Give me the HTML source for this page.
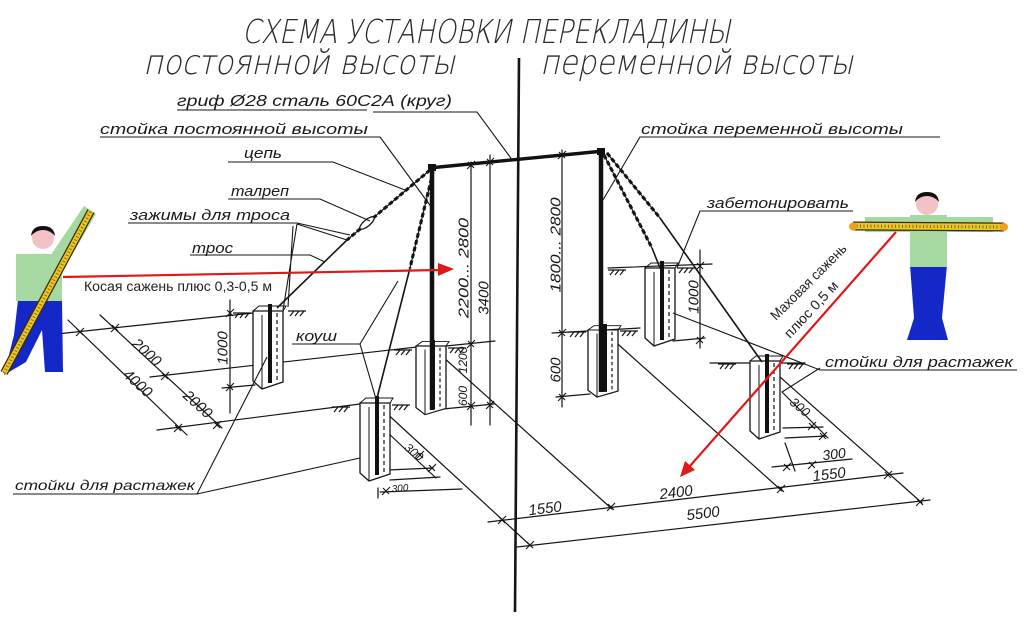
<!DOCTYPE html>
<html><head><meta charset="utf-8"><title>Схема установки перекладины</title>
<style>
html,body{margin:0;padding:0;background:#fff;}
svg{display:block;}
.l{stroke:#151515;stroke-width:1.2;fill:none;stroke-linecap:round}
.t{stroke:#151515;stroke-width:1.1;fill:none}
.c{stroke:#151515;stroke-width:1.6;fill:none}
.ch{stroke:#151515;stroke-width:3.1;fill:none;stroke-dasharray:4.5 2.5}
.h{font-family:"Liberation Sans","DejaVu Sans",sans-serif;font-style:italic;fill:#1a1a1a}
.tt{font-family:"DejaVu Sans ExtraLight","DejaVu Sans Light","Liberation Sans",sans-serif;font-style:italic;font-weight:200;fill:#2a2a2a}
.r{font-family:"Liberation Sans","DejaVu Sans",sans-serif;fill:#222}
</style></head>
<body>
<svg width="1024" height="621" viewBox="0 0 1024 621" xmlns="http://www.w3.org/2000/svg">
<defs>
  <g id="blk">
    <polygon points="0,0 30,0 30,71 9,78 0,70" fill="#fff" stroke="#151515" stroke-width="1.3"/>
    <line x1="9" y1="4" x2="9" y2="78" stroke="#151515" stroke-width="1"/>
    <path d="M0,0 L6,-5 L33,-5 L30,0" fill="none" stroke="#151515" stroke-width="1"/>
    <line x1="17" y1="-7" x2="17" y2="72" stroke="#111" stroke-width="4"/>
    <line x1="24" y1="2" x2="24" y2="70" stroke="#151515" stroke-width="1.2" stroke-dasharray="4 3"/>
  </g>
  <g id="ht">
    <path d="M0,0 h18 M2,5 l4,-5 M7,5 l4,-5 M12,5 l4,-5" fill="none" stroke="#151515" stroke-width="1.2"/>
  </g>
  <g id="tk">
    <path d="M-4,4 L4,-4 M-3,-3 L3,3" fill="none" stroke="#151515" stroke-width="1.1"/>
  </g>
</defs>

<rect width="1024" height="621" fill="#fff"/>

<!-- Titles -->
<text x="242" y="43" class="tt" font-size="33" textLength="488" lengthAdjust="spacingAndGlyphs">СХЕМА УСТАНОВКИ ПЕРЕКЛАДИНЫ</text>
<text x="143" y="74" class="tt" font-size="34" textLength="312" lengthAdjust="spacingAndGlyphs">постоянной высоты</text>
<text x="540" y="74" class="tt" font-size="34" textLength="313" lengthAdjust="spacingAndGlyphs">переменной высоты</text>

<!-- center divider -->
<line x1="519" y1="58" x2="515" y2="612" stroke="#151515" stroke-width="2.6"/>

<!-- ground / perspective lines -->
<line class="l" x1="57" y1="334" x2="253" y2="313"/>
<line class="l" x1="150" y1="377" x2="417" y2="347"/>
<line class="l" x1="446" y1="346" x2="495" y2="341"/>
<line class="l" x1="157" y1="430" x2="360" y2="404"/>
<line class="l" x1="443" y1="409" x2="494" y2="404"/>
<line class="l" x1="100" y1="315" x2="222" y2="428"/>
<line class="l" x1="68" y1="320" x2="187" y2="435"/>
<line class="l" x1="443" y1="357" x2="612" y2="509"/>
<line class="l" x1="383" y1="410" x2="532" y2="547"/>
<line class="l" x1="610" y1="337" x2="782" y2="491"/>
<line class="l" x1="780" y1="377" x2="922" y2="503"/>
<line class="l" x1="488" y1="522" x2="903" y2="473"/>
<line class="l" x1="517" y1="547" x2="930" y2="500"/>

<!-- vertical dims -->
<line class="l" x1="230" y1="300" x2="230" y2="413"/>
<line class="l" x1="222" y1="388" x2="255" y2="385"/>
<line class="l" x1="471" y1="162" x2="471" y2="425"/>
<line class="l" x1="490" y1="155" x2="490" y2="425"/>
<line class="l" x1="562" y1="150" x2="562" y2="407"/>
<line class="l" x1="552" y1="333" x2="640" y2="328"/>
<line class="l" x1="556" y1="397" x2="590" y2="394"/>
<line class="l" x1="608" y1="268" x2="712" y2="264"/>
<line class="l" x1="673" y1="341" x2="705" y2="338"/>
<line class="l" x1="700" y1="250" x2="700" y2="348"/>
<line class="l" x1="710" y1="363" x2="805" y2="363"/>

<!-- small dims near F -->
<line class="l" x1="782" y1="392" x2="828" y2="438"/>
<line class="l" x1="783" y1="428" x2="823" y2="427"/>
<line class="l" x1="785" y1="438" x2="826" y2="436"/>
<line class="l" x1="785" y1="443" x2="795" y2="471"/>
<line class="l" x1="772" y1="467" x2="852" y2="459"/>
<!-- small dims near B -->
<line class="l" x1="387" y1="432" x2="436" y2="478"/>
<line class="l" x1="388" y1="470" x2="433" y2="468"/>
<line class="l" x1="390" y1="480" x2="440" y2="477"/>
<line class="l" x1="378" y1="488" x2="378" y2="498"/>
<line class="l" x1="380" y1="492" x2="462" y2="489"/>

<!-- ticks -->
<use href="#tk" x="115" y="328"/><use href="#tk" x="165" y="376"/><use href="#tk" x="217" y="425"/>
<use href="#tk" x="80" y="332"/><use href="#tk" x="178" y="428"/>
<use href="#tk" x="230" y="313"/><use href="#tk" x="230" y="387"/>
<use href="#tk" x="471" y="165"/><use href="#tk" x="490" y="162"/><use href="#tk" x="471" y="344"/>
<use href="#tk" x="471" y="406"/><use href="#tk" x="490" y="405"/>
<use href="#tk" x="562" y="155"/><use href="#tk" x="562" y="333"/><use href="#tk" x="562" y="397"/>
<use href="#tk" x="700" y="266"/><use href="#tk" x="700" y="340"/>
<use href="#tk" x="502" y="520"/><use href="#tk" x="611" y="507"/><use href="#tk" x="781" y="489"/>
<use href="#tk" x="888" y="475"/><use href="#tk" x="530" y="545"/><use href="#tk" x="920" y="502"/>
<use href="#tk" x="812" y="426"/><use href="#tk" x="823" y="436"/>
<use href="#tk" x="787" y="467"/><use href="#tk" x="812" y="465"/>
<use href="#tk" x="420" y="455"/><use href="#tk" x="432" y="468"/><use href="#tk" x="386" y="491"/>

<!-- hatches -->
<use href="#ht" x="233" y="313"/><use href="#ht" x="288" y="311"/>
<use href="#ht" x="394" y="350"/><use href="#ht" x="448" y="348"/>
<use href="#ht" x="332" y="407"/><use href="#ht" x="392" y="405"/>
<use href="#ht" x="568" y="332"/><use href="#ht" x="620" y="331"/>
<use href="#ht" x="608" y="270"/><use href="#ht" x="677" y="268"/>
<use href="#ht" x="718" y="364"/><use href="#ht" x="787" y="364"/>

<!-- foundation blocks -->
<use href="#blk" transform="translate(253,311)"/>
<use href="#blk" transform="translate(360,403)"/>
<use href="#blk" transform="translate(416,346) scale(1,0.88)"/>
<use href="#blk" transform="translate(588,330) scale(1,0.86)"/>
<use href="#blk" transform="translate(645,268)"/>
<use href="#blk" transform="translate(750,361)"/>

<!-- main frame -->
<line x1="432" y1="168" x2="432" y2="410" stroke="#111" stroke-width="4.5"/>
<line x1="601" y1="152" x2="601" y2="392" stroke="#111" stroke-width="4.5"/>
<line x1="429" y1="168" x2="604" y2="151" stroke="#111" stroke-width="3.4"/>
<rect x="428" y="164" width="8" height="7" fill="#111"/>
<rect x="597" y="148" width="8" height="7" fill="#111"/>

<!-- chains and cables -->
<line class="l" x1="430" y1="170" x2="347" y2="240"/>
<line class="ch" x1="430" y1="170" x2="347" y2="240"/>
<ellipse cx="367" cy="223" rx="9" ry="3.2" transform="rotate(-40 367 223)" fill="#fff" stroke="#111" stroke-width="1.3"/>
<line class="c" x1="347" y1="240" x2="277" y2="308"/>
<line class="l" x1="433" y1="172" x2="410" y2="268"/>
<line class="ch" x1="433" y1="172" x2="410" y2="268"/>
<line class="c" x1="410" y1="268" x2="376" y2="402"/>
<line class="l" x1="604" y1="155" x2="652" y2="248"/>
<line class="ch" x1="604" y1="155" x2="652" y2="248"/>
<line class="c" x1="652" y1="248" x2="660" y2="268"/>
<line class="l" x1="607" y1="153" x2="660" y2="218"/>
<line class="ch" x1="607" y1="153" x2="660" y2="218"/>
<line class="c" x1="660" y1="218" x2="762" y2="362"/>

<!-- leaders / underlines -->
<path class="t" d="M177,110 H367 M373,112 H477 L513,161"/>
<path class="t" d="M100,137 H380 L432,208"/>
<path class="t" d="M228,162 H333 L405,190"/>
<path class="t" d="M228,199 H320 L370,221"/>
<path class="t" d="M128,223 H297 L350,235 M297,224 L347,240 M297,224 L283,310 M293,226 L288,307"/>
<path class="t" d="M190,255 H310 L325,262"/>
<path class="t" d="M292,344 H360 L398,281 M360,344 L376,399"/>
<path class="t" d="M13,494 H197 L267,357 M197,494 L360,458"/>
<path class="t" d="M940,137 H640 L603,200"/>
<path class="t" d="M853,211 H700 L677,268"/>
<path class="t" d="M1017,370 H820 L673,313 M820,368 L782,392"/>

<!-- handwritten labels -->
<text class="h" x="177" y="106" font-size="16" textLength="275" lengthAdjust="spacingAndGlyphs">гриф Ø28 сталь 60С2А (круг)</text>
<text class="h" x="100" y="134" font-size="15" textLength="268" lengthAdjust="spacingAndGlyphs">стойка постоянной высоты</text>
<text class="h" x="244" y="158" font-size="15" textLength="38" lengthAdjust="spacingAndGlyphs">цепь</text>
<text class="h" x="231" y="196" font-size="15" textLength="58" lengthAdjust="spacingAndGlyphs">талреп</text>
<text class="h" x="130" y="220" font-size="15" textLength="160" lengthAdjust="spacingAndGlyphs">зажимы для троса</text>
<text class="h" x="192" y="253" font-size="15" textLength="41" lengthAdjust="spacingAndGlyphs">трос</text>
<text class="h" x="296" y="341" font-size="15" textLength="41" lengthAdjust="spacingAndGlyphs">коуш</text>
<text class="h" x="15" y="490" font-size="14" textLength="180" lengthAdjust="spacingAndGlyphs">стойки для растажек</text>
<text class="h" x="641" y="134" font-size="15" textLength="262" lengthAdjust="spacingAndGlyphs">стойка переменной высоты</text>
<text class="h" x="707" y="208" font-size="15" textLength="142" lengthAdjust="spacingAndGlyphs">забетонировать</text>
<text class="h" x="825" y="367" font-size="15" textLength="188" lengthAdjust="spacingAndGlyphs">стойки для растажек</text>

<!-- dimension numbers -->
<g class="h" font-size="15" text-anchor="middle">
  <text transform="translate(147,352) rotate(42)" dy=".35em">2000</text>
  <text transform="translate(138,383) rotate(42)" dy=".35em">4000</text>
  <text transform="translate(198,404) rotate(42)" dy=".35em">2000</text>
  <text transform="translate(222,348) rotate(-90)" dy=".35em">1000</text>
  <text transform="translate(463,268) rotate(-90)" dy=".35em" textLength="100" lengthAdjust="spacingAndGlyphs">2200... 2800</text>
  <text transform="translate(483,298) rotate(-90)" dy=".35em">3400</text>
  <text transform="translate(463,360) rotate(-90)" dy=".35em" font-size="12">1200</text>
  <text transform="translate(463,396) rotate(-90)" dy=".35em" font-size="12">600</text>
  <text transform="translate(555,245) rotate(-90)" dy=".35em" textLength="95" lengthAdjust="spacingAndGlyphs">1800... 2800</text>
  <text transform="translate(555,370) rotate(-90)" dy=".35em">600</text>
  <text transform="translate(693,297) rotate(-90)" dy=".35em">1000</text>
  <text transform="translate(800,407) rotate(40)" dy=".35em" font-size="13">300</text>
  <text transform="translate(834,454) rotate(-7)" dy=".35em" font-size="14">300</text>
  <text transform="translate(829,474) rotate(-7)" dy=".35em">1550</text>
  <text transform="translate(676,492) rotate(-7)" dy=".35em">2400</text>
  <text transform="translate(545,508) rotate(-7)" dy=".35em">1550</text>
  <text transform="translate(703,513) rotate(-7)" dy=".35em">5500</text>
  <text transform="translate(414,452) rotate(40)" dy=".35em" font-size="12">300</text>
  <text transform="translate(400,488) rotate(-5)" dy=".35em" font-size="10">300</text>
</g>

<!-- left person -->
<g>
  <polygon points="18,300 62,300 63,372 45,372 42,330 26,362 4,375 14,335 18,300" fill="#1428c8"/>
  <rect x="16" y="254" width="46" height="47" fill="#a6d8a2"/>
  <polygon points="46,262 62,272 96,214 84,206" fill="#a6d8a2"/>
  <circle cx="43" cy="238" r="11" fill="#f3c2c6"/>
  <path d="M31,236 Q32,226 43,226 Q54,226 55,236 Q50,230 43,230 Q36,230 31,236Z" fill="#111"/>
  <line x1="4" y1="373" x2="91" y2="211" stroke="#3a2a00" stroke-width="8"/>
  <line x1="4" y1="373" x2="91" y2="211" stroke="#e9c62a" stroke-width="5.5"/>
  <line x1="4" y1="373" x2="91" y2="211" stroke="#8a6a00" stroke-width="3" stroke-dasharray="1 2.5"/>
</g>

<!-- right person -->
<g>
  <polygon points="910,265 947,265 942,318 948,340 907,340 914,318" fill="#1428c8"/>
  <rect x="865" y="217" width="128" height="15" fill="#a6d8a2"/>
  <rect x="910" y="215" width="37" height="52" fill="#a6d8a2"/>
  <circle cx="927" cy="204" r="11" fill="#f3c2c6"/>
  <path d="M915,202 Q916,192 927,192 Q938,192 939,202 Q934,196 927,196 Q920,196 915,202Z" fill="#111"/>
  <line x1="853" y1="226" x2="1004" y2="227" stroke="#3a2a00" stroke-width="9"/>
  <line x1="853" y1="226" x2="1004" y2="227" stroke="#e9c62a" stroke-width="6.5"/>
  <line x1="853" y1="226" x2="1004" y2="227" stroke="#8a6a00" stroke-width="3" stroke-dasharray="1 2.5"/>
  <circle cx="853" cy="226.5" r="4" fill="#f0a020"/>
  <circle cx="1004" cy="227" r="4" fill="#f0a020"/>
</g>

<!-- red arrows -->
<line x1="63" y1="277" x2="440" y2="270" stroke="#e01818" stroke-width="2.2"/>
<polygon points="454,269 438,263 438,276" fill="#e01818"/>
<text class="r" x="84" y="291" font-size="14" textLength="188" lengthAdjust="spacingAndGlyphs">Косая сажень плюс 0,3-0,5 м</text>

<line x1="896" y1="232" x2="690" y2="466" stroke="#e01818" stroke-width="2.2"/>
<polygon points="680,477 695,470 685,461" fill="#e01818"/>
<text class="r" transform="translate(776,321) rotate(-45)" font-size="14" textLength="101" lengthAdjust="spacingAndGlyphs">Маховая сажень</text>
<text class="r" transform="translate(790,339) rotate(-47)" font-size="14" textLength="72" lengthAdjust="spacingAndGlyphs">плюс 0,5 м</text>
</svg>
</body></html>
